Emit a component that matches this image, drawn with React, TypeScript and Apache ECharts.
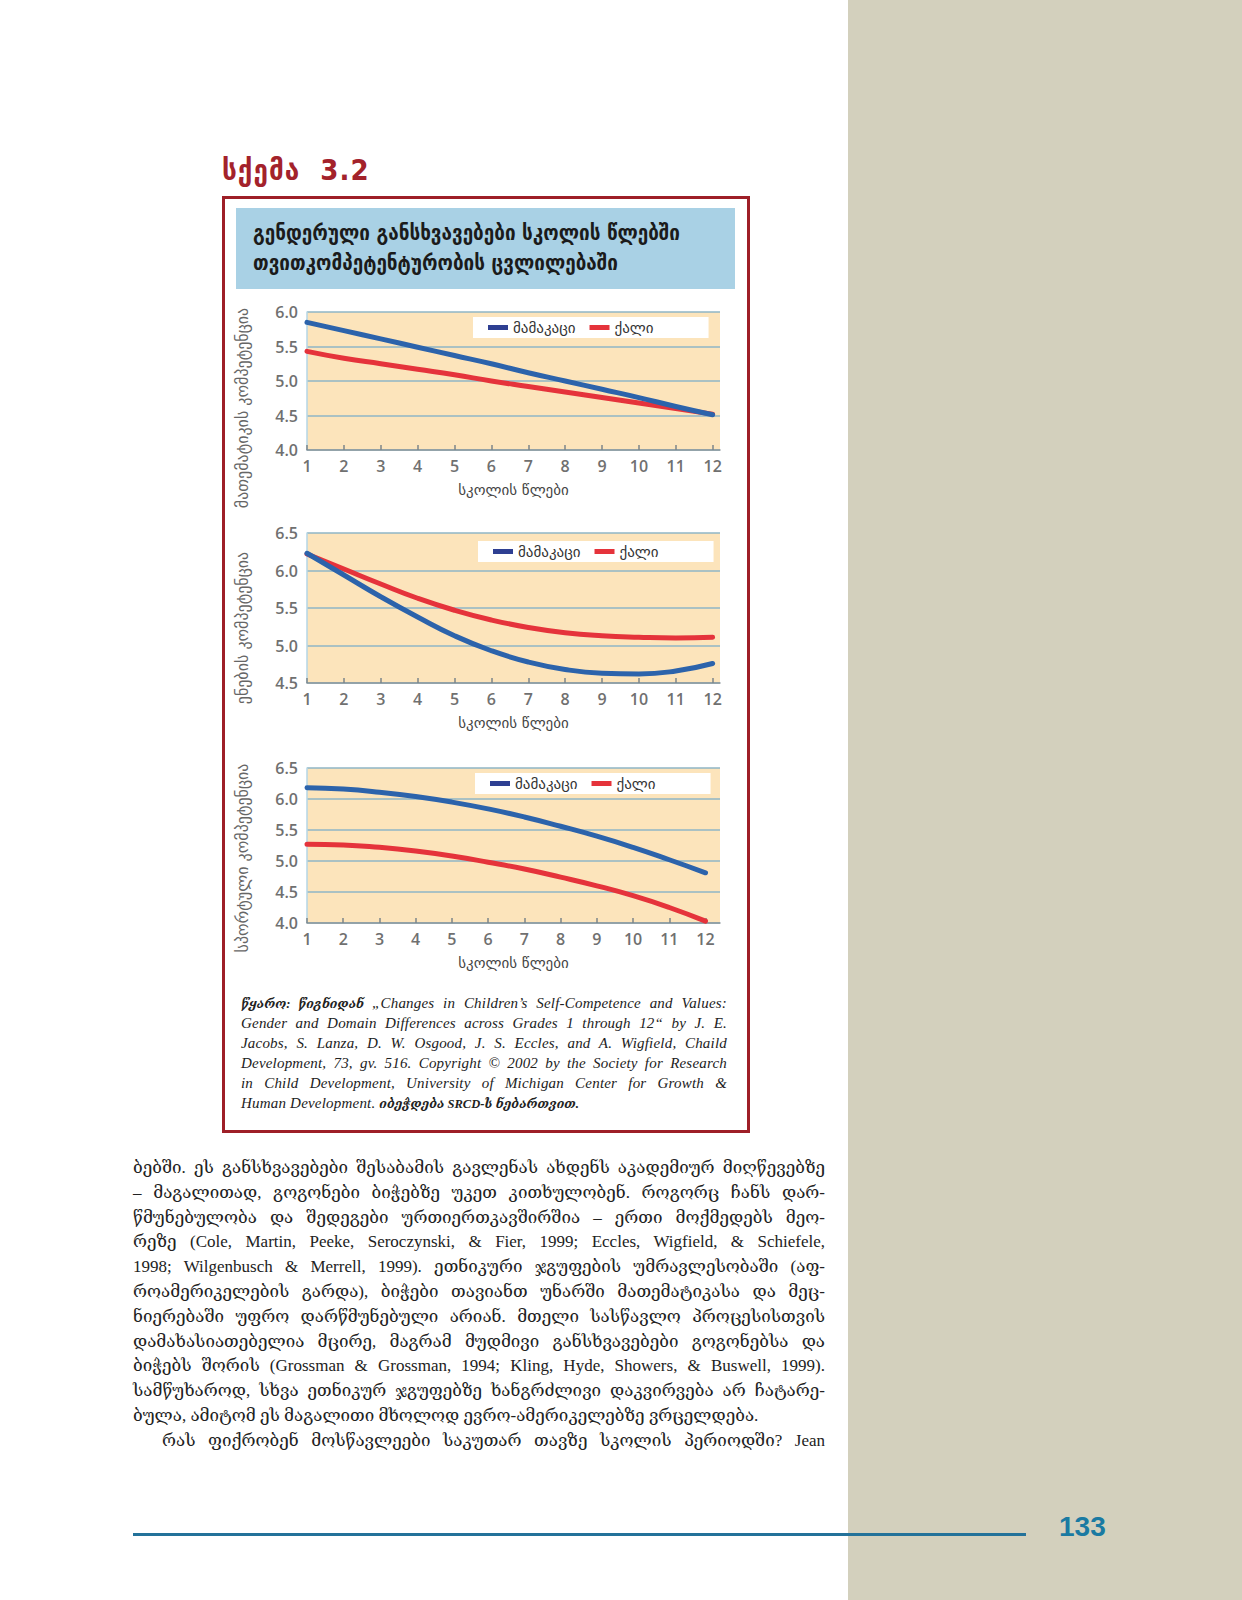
import React, { useEffect, useRef } from "react";
import * as echarts from "echarts";

const grades = [1, 2, 3, 4, 5, 6, 7, 8, 9, 10, 11, 12];
const seriesNames = ["მამაკაცი", "ქალი"];
const mathMale = [5.85, 5.73, 5.61, 5.49, 5.37, 5.25, 5.12, 5.0, 4.88, 4.76, 4.63, 4.51];
const mathFemale = [5.43, 5.33, 5.25, 5.17, 5.09, 5.0, 4.92, 4.84, 4.76, 4.68, 4.6, 4.52];
const langMale = [6.23, 5.94, 5.65, 5.38, 5.13, 4.93, 4.78, 4.68, 4.63, 4.62, 4.66, 4.76];
const langFemale = [6.22, 6.02, 5.82, 5.63, 5.47, 5.34, 5.24, 5.17, 5.13, 5.11, 5.1, 5.11];
const sciMale = [6.18, 6.16, 6.11, 6.04, 5.95, 5.84, 5.71, 5.56, 5.4, 5.22, 5.02, 4.81];
const sciFemale = [5.27, 5.26, 5.22, 5.16, 5.08, 4.98, 4.87, 4.74, 4.6, 4.44, 4.25, 4.03];
const yNames = ["მათემატიკის კომპეტენცია", "ენების კომპეტენცია", "სპორტული კომპეტენცია"];
const xName = "სკოლის წლები";
const yRanges = [
  [4.0, 6.0],
  [4.5, 6.5],
  [4.0, 6.5],
];
const xMax = [12.2, 12.2, 12.4];

const maleSets = [mathMale, langMale, sciMale];
const femaleSets = [mathFemale, langFemale, sciFemale];

const grids = [
  { left: 307, top: 312, width: 413, height: 138 },
  { left: 307, top: 533, width: 413, height: 150 },
  { left: 307, top: 768, width: 413, height: 155 },
];
const legendPos = [
  { left: 473, top: 317 },
  { left: 478, top: 541 },
  { left: 475, top: 773 },
];
const yNamePos = [
  { x: 242, y: 408 },
  { x: 242, y: 628 },
  { x: 242, y: 858 },
];

const BLUE = "#2c63ab";
const RED = "#e5333b";
const GEO = "'DejaVu Sans', sans-serif";

const bodyLines = [
  "ბებში. ეს განსხვავებები შესაბამის გავლენას ახდენს აკადემიურ მიღწევებზე",
  "– მაგალითად, გოგონები ბიჭებზე უკეთ კითხულობენ. როგორც ჩანს დარ-",
  "წმუნებულობა და შედეგები ურთიერთკავშირშია – ერთი მოქმედებს მეო-",
  "რეზე (Cole, Martin, Peeke, Seroczynski, & Fier, 1999; Eccles, Wigfield, & Schiefele,",
  "1998; Wilgenbusch & Merrell, 1999). ეთნიკური ჯგუფების უმრავლესობაში (აფ-",
  "როამერიკელების გარდა), ბიჭები თავიანთ უნარში მათემატიკასა და მეც-",
  "ნიერებაში უფრო დარწმუნებული არიან. მთელი სასწავლო პროცესისთვის",
  "დამახასიათებელია მცირე, მაგრამ მუდმივი განსხვავებები გოგონებსა და",
  "ბიჭებს შორის (Grossman & Grossman, 1994; Kling, Hyde, Showers, & Buswell, 1999).",
  "სამწუხაროდ, სხვა ეთნიკურ ჯგუფებზე ხანგრძლივი დაკვირვება არ ჩატარე-",
  "ბულა, ამიტომ ეს მაგალითი მხოლოდ ევრო-ამერიკელებზე ვრცელდება.",
  "რას ფიქრობენ მოსწავლეები საკუთარ თავზე სკოლის პერიოდში? Jean",
];

const sourceLines: Array<Array<[string, boolean]>> = [
  [["წყარო: წიგნიდან ", true], ["„Changes in Children’s Self-Competence and Values:", false]],
  [["Gender and Domain Differences across Grades 1 through 12“ by J. E.", false]],
  [["Jacobs, S. Lanza, D. W. Osgood, J. S. Eccles, and A. Wigfield, Chaild", false]],
  [["Development, 73, gv. 516. Copyright © 2002 by the Society for Research", false]],
  [["in Child Development, University of Michigan Center for Growth &", false]],
  [["Human Development. ", false], ["იბეჭდება SRCD-ს ნებართვით.", true]],
];

function buildOption() {
  const series: any[] = [];
  [0, 1, 2].forEach((i) => {
    series.push({
      name: seriesNames[1],
      type: "line",
      xAxisIndex: i,
      yAxisIndex: i,
      smooth: true,
      symbol: "none",
      z: 2,
      lineStyle: { color: RED, width: 5, cap: "round" },
      itemStyle: { color: RED },
      data: grades.map((g, k) => [g, femaleSets[i][k]]),
    });
    series.push({
      name: seriesNames[0],
      type: "line",
      xAxisIndex: i,
      yAxisIndex: i,
      smooth: true,
      symbol: "none",
      z: 3,
      lineStyle: { color: BLUE, width: 5, cap: "round" },
      itemStyle: { color: BLUE },
      data: grades.map((g, k) => [g, maleSets[i][k]]),
    });
  });

  return {
    animation: false,
    grid: grids.map((g) => ({
      ...g,
      show: true,
      backgroundColor: "#fce4bb",
      borderWidth: 0,
    })),
    xAxis: [0, 1, 2].map((i) => ({
      type: "value",
      gridIndex: i,
      min: 1,
      max: xMax[i],
      interval: 1,
      name: xName,
      nameLocation: "middle",
      nameGap: 32,
      nameTextStyle: { fontFamily: GEO, fontSize: 15, color: "#444" },
      axisLine: { show: true, lineStyle: { color: "#8c979c", width: 1.5 } },
      axisTick: {
        show: true,
        inside: true,
        length: 5,
        customValues: grades,
        lineStyle: { color: "#7d868a", width: 1.5 },
      },
      axisLabel: {
        customValues: grades,
        margin: 8,
        fontFamily: "'Open Sans', sans-serif",
        fontSize: 16,
        fontWeight: 600,
        color: "#707070",
      },
      splitLine: { show: false },
    })),
    yAxis: [0, 1, 2].map((i) => ({
      type: "value",
      gridIndex: i,
      min: yRanges[i][0],
      max: yRanges[i][1],
      interval: 0.5,
      axisLine: { show: true, lineStyle: { color: "#b5d6e6", width: 1.5 } },
      axisTick: { show: false },
      axisLabel: {
        margin: 9,
        fontFamily: "'Open Sans', sans-serif",
        fontSize: 16,
        fontWeight: 600,
        color: "#707070",
        formatter: (v: number) => v.toFixed(1),
      },
      splitLine: { show: true, lineStyle: { color: "#8fb6c6", width: 1.5 } },
    })),
    legend: [0, 1, 2].map((i) => ({
      ...legendPos[i],
      orient: "horizontal",
      backgroundColor: "#ffffff",
      padding: [3, 55, 3, 15],
      itemWidth: 20,
      itemHeight: 5,
      itemGap: 14,
      icon: "rect",
      textStyle: { fontFamily: GEO, fontSize: 15, color: "#333" },
      data: [
        { name: seriesNames[0], itemStyle: { color: "#2e3f92" } },
        { name: seriesNames[1], itemStyle: { color: RED } },
      ],
    })),
    graphic: [0, 1, 2].map((i) => ({
      type: "text",
      x: yNamePos[i].x,
      y: yNamePos[i].y,
      rotation: Math.PI / 2,
      style: {
        text: yNames[i],
        font: "16px 'DejaVu Sans', sans-serif",
        fill: "#666",
        align: "center",
        verticalAlign: "middle",
        textAlign: "center",
        textVerticalAlign: "middle",
      },
    })),
    series,
  };
}

export default function App() {
  const ref = useRef<HTMLDivElement>(null);
  useEffect(() => {
    if (!ref.current) return;
    const chart = echarts.init(ref.current, undefined, { renderer: "svg" });
    chart.setOption(buildOption() as any);
    return () => chart.dispose();
  }, []);

  const abs = (s: React.CSSProperties): React.CSSProperties => ({ position: "absolute", ...s });
  const bodyFont = "'Liberation Serif', 'DejaVu Serif', 'DejaVu Sans', serif";

  return (
    <div style={abs({ left: 0, top: 0, width: 1242, height: 1600, background: "#ffffff", overflow: "hidden" })}>
      <div style={abs({ left: 848, top: 0, width: 394, height: 1600, background: "#d3d0bd" })} />
      <div
        style={abs({
          left: 222,
          top: 152,
          height: 36,
          lineHeight: "36px",
          fontFamily: "'DejaVu Sans Condensed', 'DejaVu Sans', sans-serif",
          fontWeight: 700,
          fontSize: 29,
          color: "#a3222b",
          whiteSpace: "nowrap",
          letterSpacing: 1,
        })}
      >
        სქემა&nbsp;&nbsp;3.2
      </div>
      <div
        style={abs({
          left: 222,
          top: 196,
          width: 528,
          height: 937,
          border: "3px solid #9e1f27",
          boxSizing: "border-box",
        })}
      />
      <div style={abs({ left: 236, top: 208, width: 499, height: 81, background: "#a9d1e5" })} />
      {[
        "გენდერული განსხვავებები სკოლის წლებში",
        "თვითკომპეტენტურობის ცვლილებაში",
      ].map((t, i) => (
        <div
          key={i}
          style={abs({
            left: 253,
            top: 219 + i * 30,
            height: 28,
            lineHeight: "28px",
            fontFamily: "'DejaVu Sans Condensed', 'DejaVu Sans', sans-serif",
            fontWeight: 700,
            fontSize: 21,
            color: "#1b1b1b",
            whiteSpace: "nowrap",
          })}
        >
          {t}
        </div>
      ))}
      {sourceLines.map((parts, i) => (
        <div
          key={i}
          style={abs({
            left: 241,
            top: 993 + i * 20,
            width: 486,
            height: 20,
            lineHeight: "20px",
            fontFamily: bodyFont,
            fontStyle: "italic",
            fontSize: 15,
            letterSpacing: 0.2,
            color: "#222",
            whiteSpace: "nowrap",
            textAlign: i === sourceLines.length - 1 ? "left" : "justify",
            textAlignLast: i === sourceLines.length - 1 ? "left" : "justify",
          })}
        >
          {parts.map(([t, b], j) => (
            <span key={j} style={b ? { fontWeight: 700, fontSize: 12.5, letterSpacing: 0 } : undefined}>
              {t}
            </span>
          ))}
        </div>
      ))}
      {bodyLines.map((t, i) => {
        const last = i === 10;
        const indent = i === 11 ? 29 : 0;
        return (
          <div
            key={i}
            style={abs({
              left: 133 + indent,
              top: 1156 + i * 24.8,
              width: 692 - indent,
              height: 24.8,
              lineHeight: "24.8px",
              fontFamily: bodyFont,
              fontSize: 17,
              color: "#222",
              whiteSpace: "nowrap",
              textAlign: last ? "left" : "justify",
              textAlignLast: last ? "left" : "justify",
            })}
          >
            {t}
          </div>
        );
      })}
      <div style={abs({ left: 133, top: 1533, width: 893, height: 3, background: "#23729a" })} />
      <div
        style={abs({
          left: 1059,
          top: 1510,
          height: 34,
          lineHeight: "34px",
          fontFamily: "'Liberation Sans', Arial, sans-serif",
          fontWeight: 700,
          fontSize: 28,
          color: "#1a7aa2",
        })}
      >
        133
      </div>
      <div ref={ref} style={abs({ left: 0, top: 0, width: 1242, height: 1600, zIndex: 2 })} />
    </div>
  );
}
